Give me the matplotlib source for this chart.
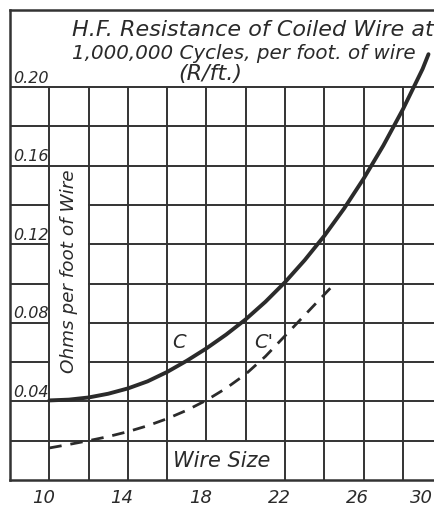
import matplotlib
matplotlib.use("Agg")
import matplotlib.pyplot as plt

# ---- data ----
wire_c = [10, 11, 12, 13, 14, 15, 16, 17, 18, 19, 20, 21, 22, 23, 24, 25, 26, 27, 28, 29, 29.3]
ohms_c = [0.0405, 0.0409, 0.0420, 0.0439, 0.0466, 0.0502, 0.0550, 0.0607, 0.0670, 0.0740, 0.0818,
          0.0907, 0.1007, 0.1119, 0.1243, 0.1381, 0.1534, 0.1702, 0.1887, 0.2092, 0.2167]

wire_cp = [10, 11, 12, 13, 14, 15, 16, 17, 18, 19, 20, 21, 22, 23, 24.3]
ohms_cp = [0.0163, 0.0181, 0.0200, 0.0221, 0.0246, 0.0276, 0.0312, 0.0355, 0.0406, 0.0467,
           0.0539, 0.0629, 0.0734, 0.0839, 0.0976]

x_ticks = [10, 14, 18, 22, 26, 30]
x_tick_labels = ["10", "14", "18", "22", "26", "30"]
y_ticks = [0.20, 0.16, 0.12, 0.08, 0.04]
y_tick_labels = ["0.20", "0.16", "0.12", "0.08", "0.04"]

title_lines = ["H.F. Resistance of Coiled Wire at",
               "1,000,000 Cycles, per foot. of wire",
               "(R/ft.)"]
ylabel = "Ohms per foot of Wire"
xlabel = "Wire Size"

# ---- style ----
INK = "#333333"
GRID_LW = 1.4
FONT = dict(family="DejaVu Sans", style="italic", color="#2a2a2a")

W, H = 434, 510
fig = plt.figure(figsize=(W / 100, H / 100), dpi=100)
left_px, right_px, top_px, bot_px = 10, 434, 11, 481
ax = fig.add_axes([left_px / W, (H - bot_px) / H, (right_px - left_px) / W, (bot_px - top_px) / H])
ax.set_xlim(8, 29.58)
ax.set_ylim(0, 0.2392)
ax.set_xticks([])
ax.set_yticks([])
for s in ["left", "top", "bottom"]:
    ax.spines[s].set_linewidth(1.8)
    ax.spines[s].set_color(INK)
ax.spines["right"].set_visible(False)

# vertical grid lines (skip the "Wire Size" box interior)
for xv in range(10, 30, 2):
    ymin = 0.02 if 16 < xv < 22 else 0.0
    ax.plot([xv, xv], [ymin, 0.20], color=INK, lw=GRID_LW, zorder=1, solid_capstyle="butt")

# horizontal grid lines (skip the y-label column box interior)
for k in range(1, 11):
    yv = round(0.02 * k, 2)
    if 0.04 < yv < 0.16:
        ax.plot([8, 10], [yv, yv], color=INK, lw=GRID_LW, zorder=1)
        ax.plot([12, 30], [yv, yv], color=INK, lw=GRID_LW, zorder=1)
    else:
        ax.plot([8, 30], [yv, yv], color=INK, lw=GRID_LW, zorder=1)

# curves
ax.plot(wire_c, ohms_c, color="#2b2b2b", lw=2.8, zorder=3, solid_capstyle="round",
        solid_joinstyle="round")
ax.plot(wire_cp, ohms_cp, color="#2b2b2b", lw=2.0, zorder=3, linestyle=(0, (4.5, 3.2)))

ax.text(16.6, 0.0655, "C", fontsize=14, ha="center", va="bottom", **FONT)
ax.text(20.9, 0.0655, "C'", fontsize=14, ha="center", va="bottom", **FONT)

# y tick labels inside first column
for yv, lab in zip(y_ticks, y_tick_labels):
    ax.text(8.15, yv + 0.0012, lab, fontsize=11.5, ha="left", va="bottom", **FONT)

# x tick labels below (hand lettering sits a little left of each line)
for xv, lab in zip(x_ticks, x_tick_labels):
    shift = 1.05 if xv >= 30 else 0.3
    ax.text(xv - shift, -0.004, lab, fontsize=13, ha="center", va="top", clip_on=False, **FONT)

# axis labels
ax.text(11.0, 0.1068, ylabel, fontsize=13.2, rotation=90, ha="center", va="center", **FONT)
ax.text(18.75, 0.0100, xlabel, fontsize=15, ha="center", va="center", **FONT)

# title
fig.text(72 / W, 1 - 36 / H, title_lines[0], fontsize=16, ha="left", va="baseline", **FONT)
fig.text(72 / W, 1 - 59 / H, title_lines[1], fontsize=14.3, ha="left", va="baseline", **FONT)
fig.text(178 / W, 1 - 80 / H, title_lines[2], fontsize=16, ha="left", va="baseline", **FONT)

fig.savefig("out.png", dpi=100, facecolor="white")
